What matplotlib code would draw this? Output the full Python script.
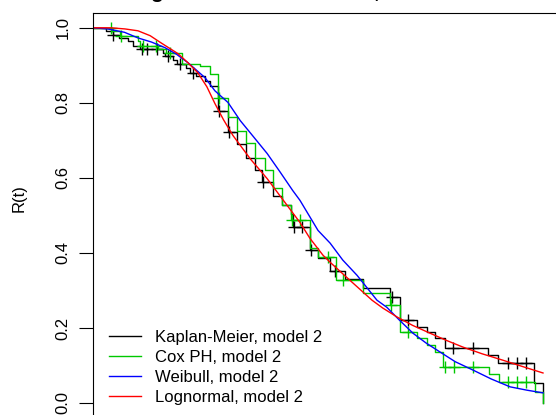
import matplotlib
matplotlib.use("Agg")
import matplotlib.pyplot as plt

plt.rcParams['font.family'] = ['Liberation Sans', 'DejaVu Sans']

# Kaplan-Meier step curve (time of drop, survival after drop)
km_t = [0, 2.9, 4.4, 5.8, 7.8, 8.9, 10.4, 15.6, 16.0, 17.8, 18.7, 20.7, 21.6, 22.9,
        24.9, 26.0, 27.8, 30.0, 32.0, 34.0, 36.0, 37.6, 40.0, 42.0, 44.0, 44.4, 48.2,
        50.0, 52.7, 56.0, 60.0, 66.0, 68.2, 72.0, 74.2, 76.0, 78.2, 87.8, 90.0, 98.0, 100.0]
km_r = [1.000, 0.992, 0.981, 0.973, 0.965, 0.952, 0.944, 0.934, 0.926, 0.915, 0.904,
        0.894, 0.880, 0.872, 0.859, 0.846, 0.779, 0.721, 0.691, 0.654, 0.620, 0.588,
        0.551, 0.527, 0.505, 0.468, 0.407, 0.386, 0.351, 0.330, 0.306, 0.282, 0.221,
        0.202, 0.189, 0.173, 0.146, 0.128, 0.106, 0.053, 0.0]
km_cens_t = [4.4, 10.9, 12.0, 14.2, 16.7, 19.3, 22.2, 28.0, 30.2, 37.8, 44.6, 46.4,
             48.4, 53.8, 66.4, 70.0, 80.0, 84.4, 92.2, 94.2, 96.2]
km_cens_r = [0.981, 0.944, 0.944, 0.944, 0.926, 0.904, 0.880, 0.779, 0.721, 0.588,
             0.468, 0.468, 0.407, 0.351, 0.282, 0.221, 0.146, 0.146, 0.106, 0.106, 0.106]

# Cox PH step curve
cox_t = [0, 4.2, 6.0, 10.0, 10.4, 14.4, 16.2, 19.8, 23.8, 26.0, 27.8, 30.0, 32.0, 34.0,
         36.0, 38.2, 40.0, 42.0, 44.0, 48.2, 50.0, 54.0, 60.0, 66.0, 68.2, 72.0, 74.2,
         76.0, 77.8, 88.0, 90.2, 98.2, 100.0]
cox_r = [1.000, 0.992, 0.979, 0.965, 0.952, 0.944, 0.934, 0.904, 0.899, 0.878, 0.814,
         0.761, 0.726, 0.694, 0.654, 0.620, 0.574, 0.527, 0.489, 0.412, 0.388, 0.327,
         0.293, 0.261, 0.189, 0.173, 0.154, 0.136, 0.096, 0.077, 0.056, 0.029, 0.0]
cox_cens_t = [4.0, 6.2, 11.1, 14.0, 17.1, 28.0, 44.2, 46.0, 52.2, 55.6, 66.2, 70.0,
              78.2, 80.2, 84.4, 92.2, 94.2, 96.2]
cox_cens_r = [1.000, 0.979, 0.952, 0.952, 0.934, 0.814, 0.489, 0.489, 0.388, 0.327,
              0.261, 0.189, 0.096, 0.096, 0.096, 0.056, 0.056, 0.056]

# Weibull fit
wei_t = [0, 3.3, 7.0, 10.0, 13.0, 16.0, 18.5, 21.1, 24.9, 27.1, 30.0, 32.7, 35.5, 38.7,
         41.5, 44.4, 46.0, 50.0, 52.7, 55.5, 58.7, 63.1, 65.3, 68.0, 71.1, 74.0, 77.1,
         80.5, 84.4, 88.5, 92.7, 96.5, 100.0]
wei_r = [1.000, 0.997, 0.988, 0.973, 0.962, 0.947, 0.930, 0.907, 0.867, 0.832, 0.801,
         0.753, 0.712, 0.665, 0.617, 0.566, 0.540, 0.460, 0.426, 0.381, 0.340, 0.274,
         0.255, 0.222, 0.186, 0.160, 0.136, 0.110, 0.088, 0.064, 0.043, 0.034, 0.027]

# Lognormal fit
lgn_t = [0, 4.0, 7.1, 10.0, 12.7, 15.1, 18.9, 21.0, 23.3, 25.3, 27.1, 29.0, 31.1, 35.0,
         38.7, 42.5, 46.0, 48.2, 51.1, 52.7, 57.1, 62.0, 64.4, 67.6, 71.0, 74.9, 78.5,
         82.2, 86.5, 91.1, 95.5, 100.0]
lgn_r = [1.000, 1.000, 0.997, 0.992, 0.979, 0.960, 0.931, 0.908, 0.880, 0.843, 0.798,
         0.755, 0.713, 0.650, 0.598, 0.537, 0.481, 0.439, 0.394, 0.375, 0.327, 0.274,
         0.253, 0.229, 0.207, 0.186, 0.167, 0.149, 0.131, 0.114, 0.097, 0.080]

labels = ["Kaplan-Meier, model 2", "Cox PH, model 2", "Weibull, model 2", "Lognormal, model 2"]
green = "#00C800"

fig = plt.figure(figsize=(5.56, 4.15), dpi=100)
ax = fig.add_axes([93/556, -3/415, (561-93)/556, (415-12.8+3)/415])

ax.step(km_t, km_r, where='post', color='black', lw=1.0, label=labels[0])
ax.plot(km_cens_t, km_cens_r, '+', color='black', ms=8.5, mew=1.0)
ax.step(cox_t, cox_r, where='post', color=green, lw=1.0, label=labels[1])
ax.plot(cox_cens_t, cox_cens_r, '+', color=green, ms=8.5, mew=1.0)
ax.plot(wei_t, wei_r, color='blue', lw=1.0, label=labels[2])
ax.plot(lgn_t, lgn_r, color='red', lw=1.0, label=labels[3])

ax.set_xlim(0, 104)
ax.set_ylim(-0.04, 1.04)
ax.set_xticks([])
ax.set_yticks([0, 0.2, 0.4, 0.6, 0.8, 1.0])
ax.set_yticklabels(["0.0", "0.2", "0.4", "0.6", "0.8", "1.0"], rotation=90, va='center')
ax.tick_params(axis='y', length=10, width=0.8, labelsize=12, pad=6)
for s in ax.spines.values():
    s.set_linewidth(0.8)
ax.set_ylabel("R(t)", fontsize=12)
ax.yaxis.set_label_coords(-(93-27)/468, (418-198)/405.2)

ax.legend(loc='upper left', bbox_to_anchor=(16/468, (418-330)/405.2), frameon=False,
          fontsize=12, handlelength=1.9, handletextpad=0.85, labelspacing=0.3,
          borderaxespad=0, borderpad=0)

fig.text(57/556, 1 + 1.5/415, "Estimating the survival function, model 2",
         fontsize=15, fontweight='bold', ha='left', va='baseline')

fig.savefig("out.png", dpi=100)
